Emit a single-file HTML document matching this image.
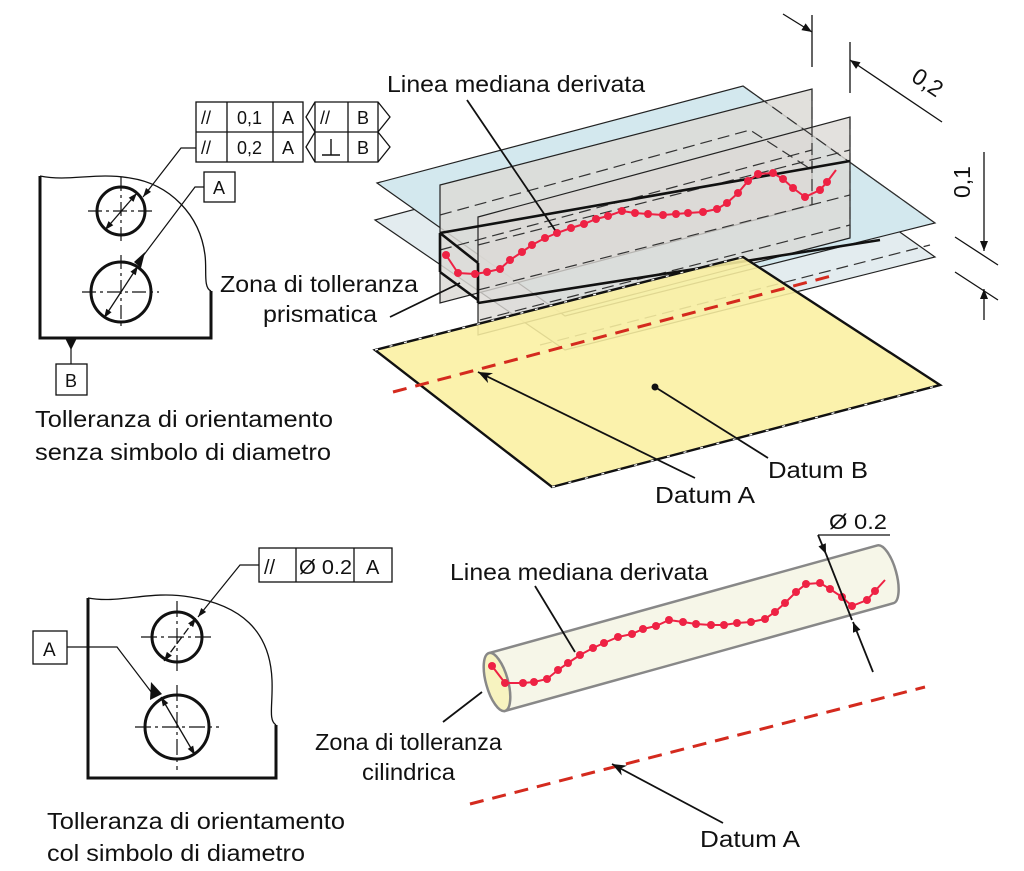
<!DOCTYPE html>
<html><head><meta charset="utf-8"><style>
html,body{margin:0;padding:0;background:#fff;}
svg{display:block;}
text{font-family:"Liberation Sans",sans-serif;fill:#111;}
</style></head><body>
<svg width="1024" height="871" viewBox="0 0 1024 871" xmlns="http://www.w3.org/2000/svg">
<defs>
<marker id="ah" viewBox="0 0 10 10" refX="10" refY="5" markerWidth="10" markerHeight="9" orient="auto-start-reverse" markerUnits="userSpaceOnUse"><path d="M0,1.5 L10,5 L0,8.5 Z" fill="#111"/></marker>
<marker id="ahb" viewBox="0 0 10 10" refX="10" refY="5" markerWidth="16" markerHeight="14" orient="auto-start-reverse" markerUnits="userSpaceOnUse"><path d="M0,1 L10,5 L0,9 L3,5 Z" fill="#111"/></marker>
<marker id="ahm" viewBox="0 0 10 10" refX="10" refY="5" markerWidth="12" markerHeight="10" orient="auto-start-reverse" markerUnits="userSpaceOnUse"><path d="M0,1 L10,5 L0,9 Z" fill="#111"/></marker>
</defs>

<!-- ===== TOP LEFT DRAWING ===== -->
<g stroke="#111" fill="none">
  <path d="M40,176 C70,182 95,172 130,178 C170,184 200,215 205,255 C207,270 203,288 211,291" stroke-width="1.3"/>
  <path d="M40,176 V338 H211 V291" stroke-width="3"/>
  <circle cx="121" cy="211" r="24" stroke-width="3"/>
  <circle cx="121" cy="292" r="30" stroke-width="3"/>
  <path d="M88,211 H154 M121,177 V245 M82,292 H159 M121,255 V330" stroke-width="1.2" stroke-dasharray="14,4,3,4"/>
  <line x1="105" y1="230" x2="137" y2="193" stroke-width="1.3" marker-start="url(#ah)" marker-end="url(#ah)"/>
  <line x1="104" y1="318" x2="138" y2="266" stroke-width="1.3" marker-start="url(#ah)" marker-end="url(#ah)"/>
  <polyline points="196,148 181,148 143,197" stroke-width="1.2" marker-end="url(#ah)"/>
  <polyline points="204,187 195,187 140,260" stroke-width="1.2"/>
  <path d="M134,262 L145,252 L141,268 Z" fill="#111" stroke="none"/>
  <rect x="204" y="172" width="31" height="30" stroke-width="1.3"/>
  <line x1="71" y1="348" x2="71" y2="364" stroke-width="1.2"/>
  <path d="M65,338 L77,338 L71,350 Z" fill="#111" stroke="none"/>
  <rect x="56" y="364" width="31" height="31" stroke-width="1.3"/>
  <rect x="196" y="102" width="107" height="60" stroke-width="1.3"/>
  <path d="M196,132 H303 M227,102 V162 M273,102 V162" stroke-width="1.3"/>
  <path d="M315,102 H378 L390,117 L378,132 L390,147 L378,162 H315 L306,147 L315,132 L306,117 Z M315,132 H378 M315,102 V162 M348,102 V162 M378,102 V162" stroke-width="1.3"/>
</g>
<g font-size="18">
  <text x="201" y="124">//</text><text x="201" y="154">//</text>
  <text x="237" y="124">0,1</text><text x="237" y="154">0,2</text>
  <text x="282" y="124">A</text><text x="282" y="154">A</text>
  <text x="320" y="124">//</text>
  <text x="357" y="124">B</text><text x="357" y="154">B</text>
  <text x="213" y="194">A</text>
  <text x="65" y="387">B</text>
</g>
<path d="M322,155 H340 M331,155 V139" stroke="#111" stroke-width="1.4" fill="none"/>
<text x="35" y="427" font-size="23" textLength="298" lengthAdjust="spacingAndGlyphs">Tolleranza di orientamento</text>
<text x="35" y="460" font-size="23" textLength="296" lengthAdjust="spacingAndGlyphs">senza simbolo di diametro</text>

<!-- ===== TOP RIGHT 3D ===== -->
<polygon points="375,220 743,121 935,257 565,350" fill="#e3ecef" stroke="#222" stroke-width="1.2"/>
<polygon points="377,183 743,86 935,223 565,316" fill="#d3e8ee" stroke="#222" stroke-width="1.2"/>
<polygon points="440,185 812,89 812,205 440,303" fill="#dcdad6" fill-opacity="0.85" stroke="#222" stroke-width="1.2"/>
<polygon points="478,217 850,117 850,238 478,335" fill="#dcdad6" fill-opacity="0.8" stroke="#222" stroke-width="1.2"/>
<g stroke="#333" stroke-width="1.2" fill="none" stroke-dasharray="12,6">
  <path d="M440,215 L750,130 L812,170"/>
  <path d="M478,245 L850,150"/>
  <path d="M478,290 L850,195"/>
  <path d="M440,250 L812,150"/>
  <path d="M812,89 V205 M850,117 V238"/>
  <path d="M743,86 L935,223"/>
  <path d="M480,320 L850,225"/>
  <path d="M540,345 L930,245"/>
</g>
<g stroke="#111" stroke-width="2.6" fill="none">
  <path d="M440,233 L850,161"/>
  <path d="M478,303 L880,240"/>
  <path d="M440,233 V272 M478,263 V303 M440,233 L478,263 M440,272 L478,300"/>
</g>
<polygon points="375,350 743,257 940,385 552,487" fill="#fbf0a0" fill-opacity="0.88" stroke="#111" stroke-width="2.4"/>
<path d="M375,350 L743,257" stroke="#fff" stroke-width="1.2" stroke-dasharray="3,12" fill="none"/>
<path d="M552,487 L940,385" stroke="#fff" stroke-width="1.2" stroke-dasharray="3,14" fill="none"/>
<line x1="393" y1="392" x2="835" y2="275" stroke="#d42a1e" stroke-width="3" stroke-dasharray="14,9"/>
<g fill="#ee2244">
<polyline fill="none" stroke="#ee2244" stroke-width="2" points="446,255 458,273 475,274 487,272 500,269 510,260 522,252 532,245 545,238 557,233 571,228 584,224 596,219 608,216 622,211 635,213 648,214 663,215 676,214 688,213 703,212 717,209 727,203 738,193 748,181 758,174 773,173 783,179 793,188 805,197 820,190 827,182 836,170"/>
<circle cx="446" cy="255" r="4"/><circle cx="458" cy="273" r="4"/><circle cx="475" cy="274" r="4"/><circle cx="487" cy="272" r="4"/><circle cx="500" cy="269" r="4"/><circle cx="510" cy="260" r="4"/><circle cx="522" cy="252" r="4"/><circle cx="532" cy="245" r="4"/><circle cx="545" cy="238" r="4"/><circle cx="557" cy="233" r="4"/><circle cx="571" cy="228" r="4"/><circle cx="584" cy="224" r="4"/><circle cx="596" cy="219" r="4"/><circle cx="608" cy="216" r="4"/><circle cx="622" cy="211" r="4"/><circle cx="635" cy="213" r="4"/><circle cx="648" cy="214" r="4"/><circle cx="663" cy="215" r="4"/><circle cx="676" cy="214" r="4"/><circle cx="688" cy="213" r="4"/><circle cx="703" cy="212" r="4"/><circle cx="717" cy="209" r="4"/><circle cx="727" cy="203" r="4"/><circle cx="738" cy="193" r="4"/><circle cx="748" cy="181" r="4"/><circle cx="758" cy="174" r="4"/><circle cx="773" cy="173" r="4"/><circle cx="783" cy="179" r="4"/><circle cx="793" cy="188" r="4"/><circle cx="805" cy="197" r="4"/><circle cx="820" cy="190" r="4"/><circle cx="827" cy="182" r="4"/>
</g>
<g stroke="#111" stroke-width="1.8" fill="none">
  <line x1="467" y1="100" x2="555" y2="230"/>
  <line x1="390" y1="317" x2="460" y2="283"/>
  <line x1="695" y1="478" x2="478" y2="372" marker-end="url(#ahb)"/>
  <line x1="768" y1="458" x2="655" y2="387"/>
</g>
<circle cx="655" cy="387" r="3.5" fill="#111"/>
<text x="387" y="92" font-size="23" textLength="258" lengthAdjust="spacingAndGlyphs">Linea mediana derivata</text>
<text x="220" y="292" font-size="23" textLength="198" lengthAdjust="spacingAndGlyphs">Zona di tolleranza</text>
<text x="263" y="322" font-size="23" textLength="114" lengthAdjust="spacingAndGlyphs">prismatica</text>
<text x="655" y="503" font-size="23" textLength="100" lengthAdjust="spacingAndGlyphs">Datum A</text>
<text x="768" y="478" font-size="23" textLength="100" lengthAdjust="spacingAndGlyphs">Datum B</text>
<g stroke="#111" stroke-width="1.3" fill="none">
  <line x1="812" y1="15" x2="812" y2="67"/>
  <line x1="850" y1="42" x2="850" y2="93"/>
  <line x1="783" y1="14" x2="812" y2="32" marker-end="url(#ahm)"/>
  <line x1="942" y1="122" x2="850" y2="60" marker-end="url(#ahm)"/>
  <line x1="984" y1="152" x2="984" y2="251" marker-end="url(#ahm)"/>
  <line x1="984" y1="320" x2="984" y2="289" marker-end="url(#ahm)"/>
  <line x1="955" y1="237" x2="998" y2="265"/>
  <line x1="955" y1="272" x2="998" y2="300"/>
</g>
<text font-size="23" transform="translate(910,80) rotate(34)">0,2</text>
<text font-size="23" transform="translate(970,198) rotate(-90)">0,1</text>

<!-- ===== BOTTOM LEFT ===== -->
<g stroke="#111" fill="none">
  <path d="M88,598 C120,604 150,590 190,597 C240,605 270,630 272,680 C273,705 268,720 276,725" stroke-width="1.3"/>
  <path d="M88,598 V778 H276 V725" stroke-width="3"/>
  <circle cx="177" cy="637" r="25" stroke-width="3"/>
  <circle cx="177" cy="727" r="32" stroke-width="3"/>
  <path d="M141,637 H213 M177,601 V673 M135,727 H219 M177,685 V770" stroke-width="1.2" stroke-dasharray="16,4,3,4"/>
  <line x1="164" y1="661" x2="196" y2="618" stroke-width="1.3" stroke-dasharray="8,3" marker-start="url(#ah)" marker-end="url(#ah)"/>
  <line x1="161" y1="697" x2="195" y2="755" stroke-width="1.3" marker-start="url(#ah)" marker-end="url(#ah)"/>
  <polyline points="259,565 240,565 198,617" stroke-width="1.2" marker-end="url(#ah)"/>
  <polyline points="67,647 117,647 152,693" stroke-width="1.2"/>
  <path d="M150,700 L151,682 L162,694 Z" fill="#111" stroke="none"/>
  <rect x="33" y="631" width="34" height="33" stroke-width="1.3"/>
  <rect x="259" y="548" width="133" height="34" stroke-width="1.3"/>
  <path d="M296,548 V582 M354,548 V582" stroke-width="1.3"/>
</g>
<text x="264" y="574" font-size="20">//</text>
<text x="299" y="574" font-size="20" textLength="53" lengthAdjust="spacingAndGlyphs">Ø 0.2</text>
<text x="366" y="574" font-size="20">A</text>
<text x="43" y="656" font-size="19">A</text>
<text x="47" y="829" font-size="23" textLength="298" lengthAdjust="spacingAndGlyphs">Tolleranza di orientamento</text>
<text x="47" y="861" font-size="23" textLength="258" lengthAdjust="spacingAndGlyphs">col simbolo di diametro</text>

<!-- ===== BOTTOM RIGHT CYLINDER ===== -->
<g transform="translate(497,682) rotate(-15.5)">
  <path d="M0,-30 H403 A11,30 0 0 1 403,30 H0 Z" fill="#f6f6e8" stroke="#888" stroke-width="2.5"/>
  <ellipse cx="0" cy="0" rx="11" ry="30" fill="#f7f3c0" stroke="#888" stroke-width="2.5"/>
</g>
<g fill="#ee2244">
<polyline fill="none" stroke="#ee2244" stroke-width="2" points="492,666 505,683 523,683 534,682 547,679 558,670 568,663 580,655 593,648 604,643 618,637 632,634 643,629 656,626 669,620 683,622 696,624 711,625 724,625 737,623 751,622 765,619 775,612 785,603 796,592 806,584 820,583 830,589 842,597 852,606 867,600 875,591 885,580"/>
<circle cx="492" cy="666" r="4"/><circle cx="505" cy="683" r="4"/><circle cx="523" cy="683" r="4"/><circle cx="534" cy="682" r="4"/><circle cx="547" cy="679" r="4"/><circle cx="558" cy="670" r="4"/><circle cx="568" cy="663" r="4"/><circle cx="580" cy="655" r="4"/><circle cx="593" cy="648" r="4"/><circle cx="604" cy="643" r="4"/><circle cx="618" cy="637" r="4"/><circle cx="632" cy="634" r="4"/><circle cx="643" cy="629" r="4"/><circle cx="656" cy="626" r="4"/><circle cx="669" cy="620" r="4"/><circle cx="683" cy="622" r="4"/><circle cx="696" cy="624" r="4"/><circle cx="711" cy="625" r="4"/><circle cx="724" cy="625" r="4"/><circle cx="737" cy="623" r="4"/><circle cx="751" cy="622" r="4"/><circle cx="765" cy="619" r="4"/><circle cx="775" cy="612" r="4"/><circle cx="785" cy="603" r="4"/><circle cx="796" cy="592" r="4"/><circle cx="806" cy="584" r="4"/><circle cx="820" cy="583" r="4"/><circle cx="830" cy="589" r="4"/><circle cx="842" cy="597" r="4"/><circle cx="852" cy="606" r="4"/><circle cx="867" cy="600" r="4"/><circle cx="875" cy="591" r="4"/>
</g>
<line x1="470" y1="804" x2="925" y2="687" stroke="#d42a1e" stroke-width="3" stroke-dasharray="14,9"/>
<g stroke="#111" stroke-width="1.8" fill="none">
  <line x1="890" y1="535" x2="818" y2="535" stroke-width="1.3"/>
  <line x1="818" y1="535" x2="826" y2="554" marker-end="url(#ahm)"/>
  <line x1="826" y1="554" x2="852" y2="620"/>
  <line x1="873" y1="672" x2="853" y2="622" marker-end="url(#ahm)"/>
  <line x1="535" y1="586" x2="575" y2="652"/>
  <line x1="443" y1="722" x2="482" y2="692"/>
  <line x1="723" y1="823" x2="612" y2="764" marker-end="url(#ahb)"/>
</g>
<text x="829" y="529" font-size="21" textLength="58" lengthAdjust="spacingAndGlyphs">Ø 0.2</text>
<text x="450" y="580" font-size="23" textLength="258" lengthAdjust="spacingAndGlyphs">Linea mediana derivata</text>
<text x="315" y="750" font-size="23" textLength="187" lengthAdjust="spacingAndGlyphs">Zona di tolleranza</text>
<text x="362" y="780" font-size="23" textLength="93" lengthAdjust="spacingAndGlyphs">cilindrica</text>
<text x="700" y="847" font-size="23" textLength="100" lengthAdjust="spacingAndGlyphs">Datum A</text>
</svg>
</body></html>
